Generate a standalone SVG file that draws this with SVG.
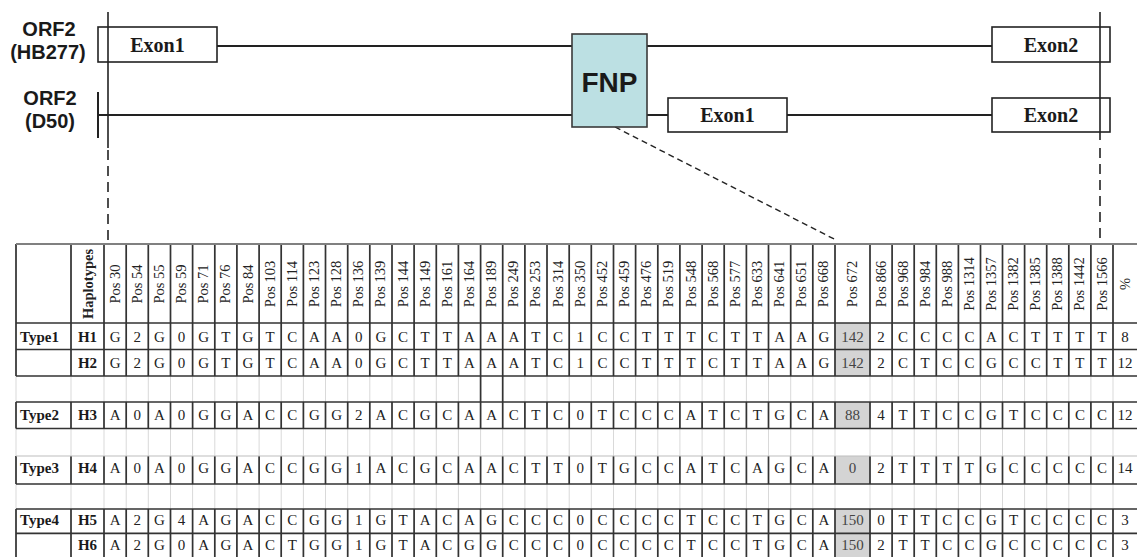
<svg xmlns="http://www.w3.org/2000/svg" xmlns:xlink="http://www.w3.org/1999/xlink" width="1137" height="557" viewBox="0 0 1137 557">
  <style>
    .lbl { font-family: "Liberation Sans", Arial, sans-serif; font-weight: bold; font-size: 20px; fill: #1a1a1a; text-anchor: middle; }
    .ex { font-family: "Liberation Serif", "Times New Roman", serif; font-weight: bold; font-size: 20px; fill: #1a1a1a; text-anchor: middle; }
    .fnptxt { font-family: "Liberation Sans", Arial, sans-serif; font-weight: bold; font-size: 28px; fill: #1a1a1a; text-anchor: middle; }
    .box { fill: #ffffff; stroke: #222222; stroke-width: 1.6; }
    .fnp { fill: #bce0e3; stroke: #3a3a3a; stroke-width: 1.6; }
    .intron { stroke: #222222; stroke-width: 2; fill: none; }
    .ref { stroke: #222222; stroke-width: 1.6; fill: none; }
    .refdash { stroke: #222222; stroke-width: 1.6; fill: none; stroke-dasharray: 10 6; }
    .zoomdash { stroke: #222222; stroke-width: 1.4; fill: none; stroke-dasharray: 6 4; }
    .gridlight { stroke: #d9d9d9; stroke-width: 1; fill: none; }
    .griddark { stroke: #333333; stroke-width: 1.7; fill: none; }
    .hd { font-family: "Liberation Serif", "Times New Roman", serif; font-size: 14.5px; fill: #222222; text-anchor: middle; }
    .cell { font-family: "Liberation Serif", "Times New Roman", serif; font-size: 15px; fill: #222222; text-anchor: middle; }
    .rowh { font-family: "Liberation Serif", "Times New Roman", serif; font-size: 15px; font-weight: bold; fill: #1a1a1a; }
    .shade { fill: #d4d4d4; }
  </style>
  <defs>
    <!-- column boundaries of the haplotype table, unit height -->
    <path id="vcols" d="M16 0V1M71 0V1M104 0V1M126.2 0V1M148.3 0V1M170.5 0V1M192.6 0V1M214.8 0V1M236.9 0V1M259.1 0V1M281.2 0V1M303.4 0V1M325.5 0V1M347.7 0V1M369.8 0V1M392 0V1M414.1 0V1M436.3 0V1M458.4 0V1M480.6 0V1M502.7 0V1M524.9 0V1M547 0V1M569.2 0V1M591.3 0V1M613.5 0V1M635.6 0V1M657.8 0V1M679.9 0V1M702.1 0V1M724.2 0V1M746.4 0V1M768.5 0V1M790.7 0V1M812.8 0V1M835 0V1M870 0V1M892.1 0V1M914.2 0V1M936.3 0V1M958.4 0V1M980.5 0V1M1002.5 0V1M1024.6 0V1M1046.7 0V1M1068.8 0V1M1090.9 0V1M1113 0V1"/>
  </defs>

  <rect width="1137" height="557" fill="#ffffff"/>

  <!-- gene structure: introns and the zoom guide -->
  <g id="connectors">
    <path class="intron" d="M217 46H572M647 46H992"/>
    <path class="intron" d="M98 115H572M647 115H668M787 115H992"/>
    <path class="intron" d="M98 92V138"/>
    <path class="zoomdash" d="M615 127L836 240"/>
  </g>

  <g id="orf2-hb277-label">
    <text class="lbl" x="49" y="36">ORF2</text>
    <text class="lbl" x="48" y="58.5">(HB277)</text>
  </g>
  <g id="orf2-d50-label">
    <text class="lbl" x="50" y="105">ORF2</text>
    <text class="lbl" x="50" y="127.5">(D50)</text>
  </g>

  <g id="exon1-hb277">
    <rect class="box" x="98" y="27" width="119" height="35"/>
    <text class="ex" x="157.5" y="52">Exon1</text>
  </g>
  <g id="exon2-hb277">
    <rect class="box" x="992" y="27" width="118" height="35"/>
    <text class="ex" x="1051" y="52">Exon2</text>
  </g>
  <g id="fnp">
    <rect class="fnp" x="572" y="34" width="75" height="93"/>
    <text class="fnptxt" x="609.5" y="92">FNP</text>
  </g>
  <g id="exon1-d50">
    <rect class="box" x="668" y="98" width="119" height="34"/>
    <text class="ex" x="727.5" y="122">Exon1</text>
  </g>
  <g id="exon2-d50">
    <rect class="box" x="992" y="98" width="118" height="34"/>
    <text class="ex" x="1051" y="122">Exon2</text>
  </g>

  <!-- vertical markers spanning the gene down to the table -->
  <g id="reference-lines">
    <path class="ref" d="M108 12V148M1100 12V140"/>
    <path class="refdash" d="M108 150V240M1100 148V240"/>
  </g>

  <!-- haplotype table -->
  <g id="table">
    <rect class="shade" x="835" y="323" width="35" height="26.5"/>
    <rect class="shade" x="835" y="349.5" width="35" height="26.5"/>
    <rect class="shade" x="835" y="402" width="35" height="26.5"/>
    <rect class="shade" x="835" y="456" width="35" height="28"/>
    <rect class="shade" x="835" y="509" width="35" height="24.3"/>
    <rect class="shade" x="835" y="533.3" width="35" height="23.7"/>

    <use xlink:href="#vcols" class="gridlight" transform="translate(0,244) scale(1,313)"/>
    <use xlink:href="#vcols" class="griddark" transform="translate(0,244) scale(1,132)"/>
    <use xlink:href="#vcols" class="griddark" transform="translate(0,402) scale(1,26.5)"/>
    <use xlink:href="#vcols" class="griddark" transform="translate(0,456) scale(1,28)"/>
    <use xlink:href="#vcols" class="griddark" transform="translate(0,509) scale(1,48)"/>
    <path class="griddark" d="M480.6 376V402M502.7 376V402"/>

    <path d="M16 244H1137" stroke="#808080" stroke-width="2.2" fill="none"/>
    <path class="griddark" d="M16 323H1137M16 349.5H1137M16 376H1137M16 402H1137M16 428.5H1137M16 484H1137M16 509H1137M16 533.3H1137"/>
    <path d="M16 456H1137" stroke="#bdbdbd" stroke-width="1.2" fill="none"/>

    <!-- rotated column headings -->
    <g transform="rotate(-90)">
      <text class="hd" font-weight="bold" font-size="15px" x="-284" y="92.5">Haplotypes</text>
      <text class="hd">
        <tspan x="-284" y="119.6">Pos 30</tspan><tspan x="-284" y="141.7">Pos 54</tspan><tspan x="-284" y="163.9">Pos 55</tspan><tspan x="-284" y="186">Pos 59</tspan><tspan x="-284" y="208.2">Pos 71</tspan><tspan x="-284" y="230.3">Pos 76</tspan><tspan x="-284" y="252.5">Pos 84</tspan><tspan x="-284" y="274.6">Pos 103</tspan><tspan x="-284" y="296.8">Pos 114</tspan><tspan x="-284" y="318.9">Pos 123</tspan><tspan x="-284" y="341.1">Pos 128</tspan><tspan x="-284" y="363.2">Pos 136</tspan><tspan x="-284" y="385.4">Pos 139</tspan><tspan x="-284" y="407.5">Pos 144</tspan><tspan x="-284" y="429.7">Pos 149</tspan><tspan x="-284" y="451.8">Pos 161</tspan><tspan x="-284" y="474">Pos 164</tspan><tspan x="-284" y="496.1">Pos 189</tspan><tspan x="-284" y="518.3">Pos 249</tspan><tspan x="-284" y="540.4">Pos 253</tspan><tspan x="-284" y="562.6">Pos 314</tspan><tspan x="-284" y="584.7">Pos 350</tspan><tspan x="-284" y="606.9">Pos 452</tspan><tspan x="-284" y="629">Pos 459</tspan><tspan x="-284" y="651.2">Pos 476</tspan><tspan x="-284" y="673.3">Pos 519</tspan><tspan x="-284" y="695.5">Pos 548</tspan><tspan x="-284" y="717.6">Pos 568</tspan><tspan x="-284" y="739.8">Pos 577</tspan><tspan x="-284" y="761.9">Pos 633</tspan><tspan x="-284" y="784.1">Pos 641</tspan><tspan x="-284" y="806.2">Pos 651</tspan><tspan x="-284" y="828.4">Pos 668</tspan><tspan x="-284" y="857">Pos 672</tspan><tspan x="-284" y="885.5">Pos 866</tspan><tspan x="-284" y="907.6">Pos 968</tspan><tspan x="-284" y="929.7">Pos 984</tspan><tspan x="-284" y="951.8">Pos 988</tspan><tspan x="-284" y="973.9">Pos 1314</tspan><tspan x="-284" y="996">Pos 1357</tspan><tspan x="-284" y="1018.1">Pos 1382</tspan><tspan x="-284" y="1040.2">Pos 1385</tspan><tspan x="-284" y="1062.3">Pos 1388</tspan><tspan x="-284" y="1084.4">Pos 1442</tspan><tspan x="-284" y="1106.5">Pos 1566</tspan><tspan x="-284" y="1129.5">%</tspan>
      </text>
    </g>

    <!-- type and haplotype labels -->
    <text class="rowh" x="20" y="342">Type1</text>
    <text class="rowh" x="20" y="420">Type2</text>
    <text class="rowh" x="20" y="473">Type3</text>
    <text class="rowh" x="20" y="525">Type4</text>
    <g class="rowh" text-anchor="middle">
      <text x="87.5" y="342">H1</text>
      <text x="87.5" y="368">H2</text>
      <text x="87.5" y="420">H3</text>
      <text x="87.5" y="473">H4</text>
      <text x="87.5" y="525">H5</text>
      <text x="87.5" y="550">H6</text>
    </g>

    <!-- allele values per haplotype -->
    <text class="cell" y="342"><tspan x="115.1 137.2 159.4 181.5 203.7 225.8 248 270.1 292.3 314.4 336.6 358.7 380.9 403 425.2 447.3 469.5 491.6 513.8 535.9 558.1 580.2 602.4 624.5 646.7 668.8 691 713.1 735.3 757.4 779.6 801.7 823.9">G2G0GTGTCAA0GCTTAAATC1CCTTTCTTAAG</tspan><tspan x="852.5" fill="#444">142</tspan><tspan x="881 903.1 925.2 947.3 969.4 991.5 1013.6 1035.7 1057.8 1079.9 1102">2CCCCACTTTT</tspan><tspan x="1125">8</tspan></text>
    <text class="cell" y="368"><tspan x="115.1 137.2 159.4 181.5 203.7 225.8 248 270.1 292.3 314.4 336.6 358.7 380.9 403 425.2 447.3 469.5 491.6 513.8 535.9 558.1 580.2 602.4 624.5 646.7 668.8 691 713.1 735.3 757.4 779.6 801.7 823.9">G2G0GTGTCAA0GCTTAAATC1CCTTTCTTAAG</tspan><tspan x="852.5" fill="#444">142</tspan><tspan x="881 903.1 925.2 947.3 969.4 991.5 1013.6 1035.7 1057.8 1079.9 1102">2CTCCGCCTTT</tspan><tspan x="1125">12</tspan></text>
    <text class="cell" y="420"><tspan x="115.1 137.2 159.4 181.5 203.7 225.8 248 270.1 292.3 314.4 336.6 358.7 380.9 403 425.2 447.3 469.5 491.6 513.8 535.9 558.1 580.2 602.4 624.5 646.7 668.8 691 713.1 735.3 757.4 779.6 801.7 823.9">A0A0GGACCGG2ACGCAACTC0TCCCATCTGCA</tspan><tspan x="852.5" fill="#444">88</tspan><tspan x="881 903.1 925.2 947.3 969.4 991.5 1013.6 1035.7 1057.8 1079.9 1102">4TTCCGTCCCC</tspan><tspan x="1125">12</tspan></text>
    <text class="cell" y="473"><tspan x="115.1 137.2 159.4 181.5 203.7 225.8 248 270.1 292.3 314.4 336.6 358.7 380.9 403 425.2 447.3 469.5 491.6 513.8 535.9 558.1 580.2 602.4 624.5 646.7 668.8 691 713.1 735.3 757.4 779.6 801.7 823.9">A0A0GGACCGG1ACGCAACTT0TGCCATCAGCA</tspan><tspan x="852.5" fill="#444">0</tspan><tspan x="881 903.1 925.2 947.3 969.4 991.5 1013.6 1035.7 1057.8 1079.9 1102">2TTTTGCCCCC</tspan><tspan x="1125">14</tspan></text>
    <text class="cell" y="525"><tspan x="115.1 137.2 159.4 181.5 203.7 225.8 248 270.1 292.3 314.4 336.6 358.7 380.9 403 425.2 447.3 469.5 491.6 513.8 535.9 558.1 580.2 602.4 624.5 646.7 668.8 691 713.1 735.3 757.4 779.6 801.7 823.9">A2G4AGACCGG1GTACAGCCC0CCCCTCCTGCA</tspan><tspan x="852.5" fill="#444">150</tspan><tspan x="881 903.1 925.2 947.3 969.4 991.5 1013.6 1035.7 1057.8 1079.9 1102">0TTCCGTCCCC</tspan><tspan x="1125">3</tspan></text>
    <text class="cell" y="550"><tspan x="115.1 137.2 159.4 181.5 203.7 225.8 248 270.1 292.3 314.4 336.6 358.7 380.9 403 425.2 447.3 469.5 491.6 513.8 535.9 558.1 580.2 602.4 624.5 646.7 668.8 691 713.1 735.3 757.4 779.6 801.7 823.9">A2G0AGACTGG1GTACGGCCC0CCCCTCCTGCA</tspan><tspan x="852.5" fill="#444">150</tspan><tspan x="881 903.1 925.2 947.3 969.4 991.5 1013.6 1035.7 1057.8 1079.9 1102">2TTCCGCCCCC</tspan><tspan x="1125">3</tspan></text>
  </g>
</svg>
